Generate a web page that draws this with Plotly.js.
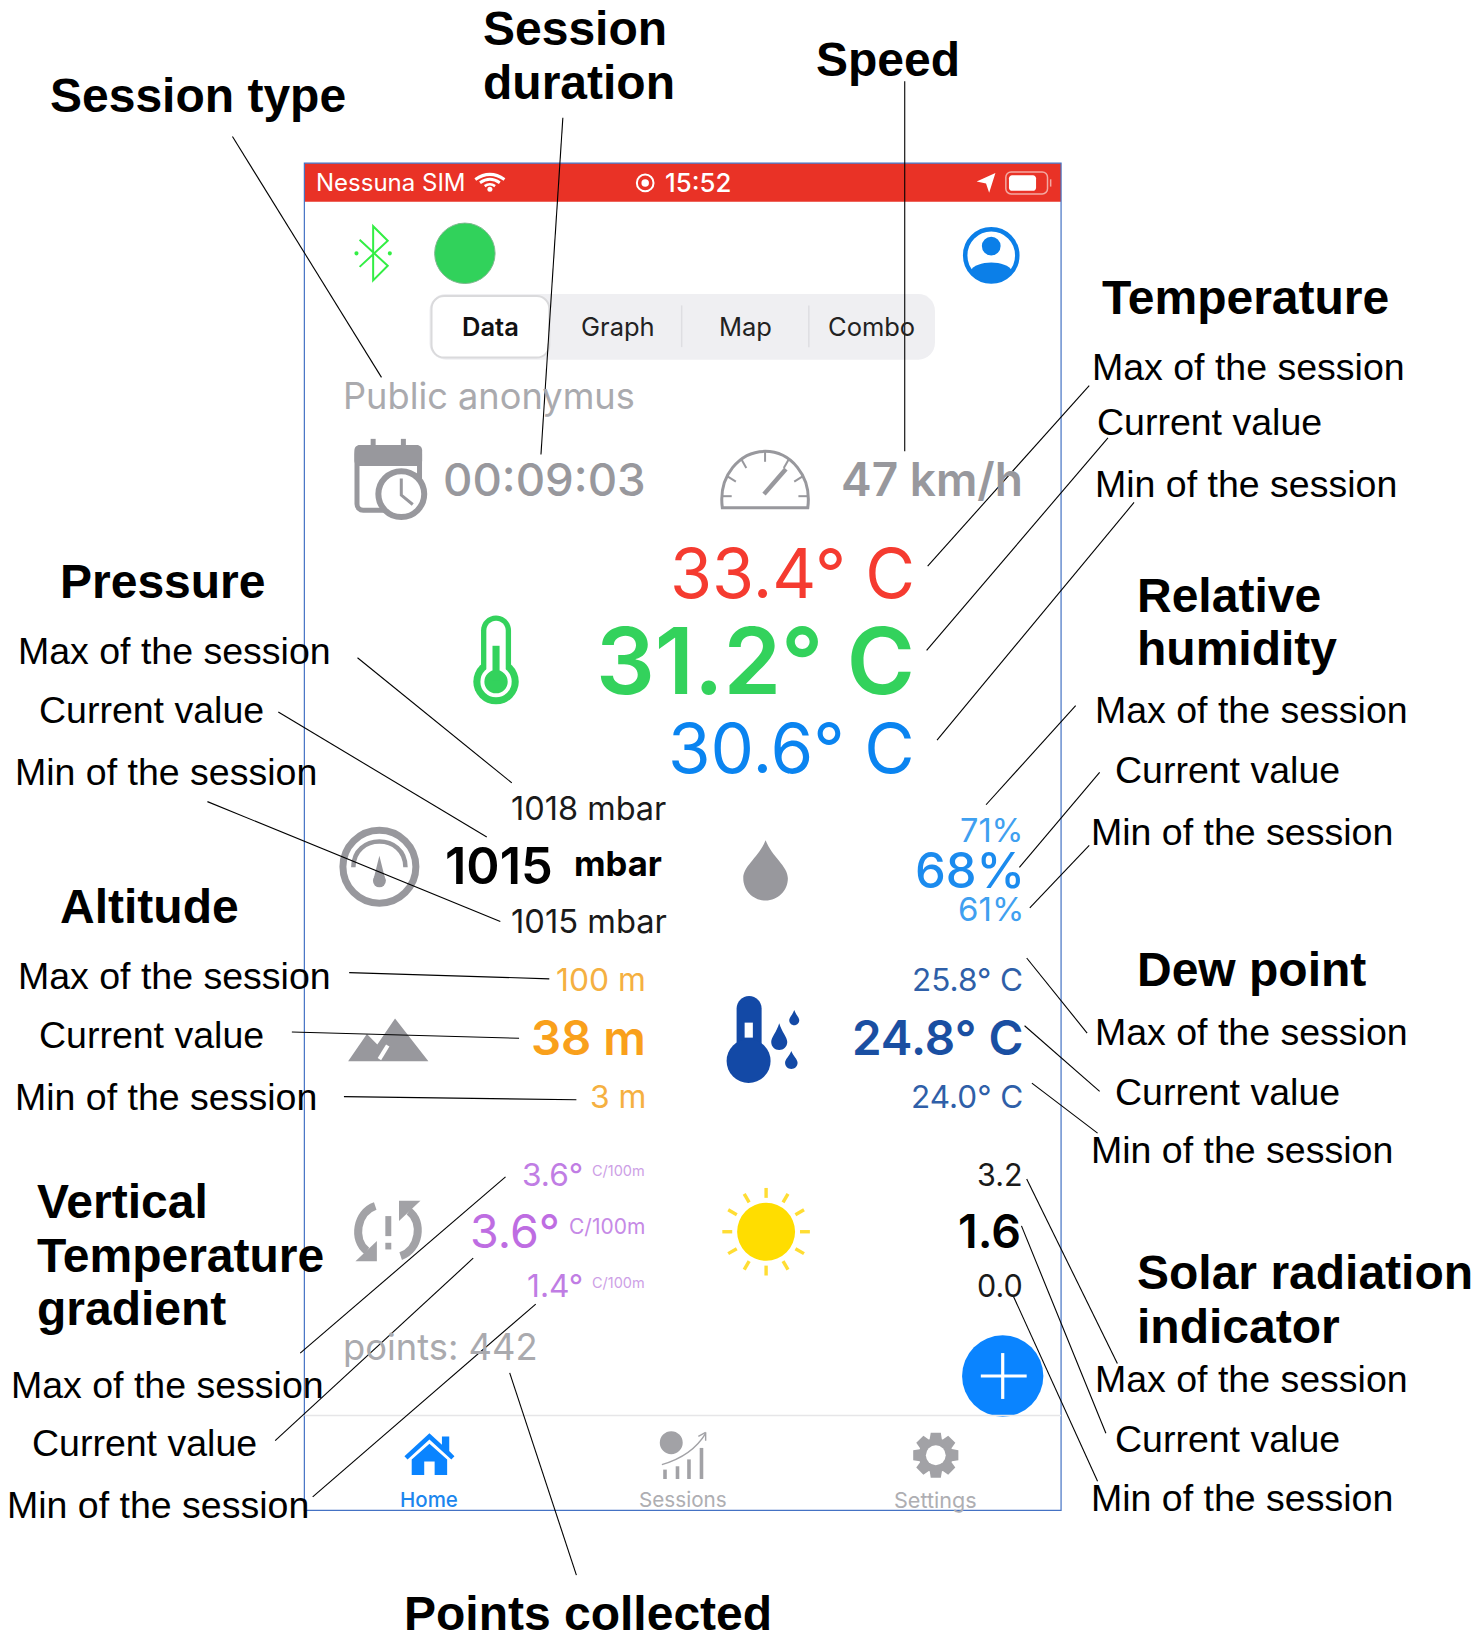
<!DOCTYPE html>
<html>
<head>
<meta charset="utf-8">
<script src="https://cdn.plot.ly/plotly-3.0.1.min.js"></script>
<style>html,body{margin:0;padding:0;background:#fff}#chart{width:1478px;height:1634px}</style>
</head>
<body>
<div id="chart"></div>
<script>
// ---- content ----
const sessionType = "Public anonymus";
const sessionDuration = "00:09:03";
const speedValue = "47 km/h";
const pointsCollected = "points: 442";
const temperatureValues = ["33.4° C", "31.2° C", "30.6° C"];
const pressureValues = ["1018 mbar", "1015", "mbar", "1015 mbar"];
const humidityValues = ["71%", "68%", "61%"];
const altitudeValues = ["100 m", "38 m", "3 m"];
const dewPointValues = ["25.8° C", "24.8° C", "24.0° C"];
const gradientValues = ["3.6°", "3.6°", "1.4°"];
const gradientUnit = "C/100m";
const solarValues = ["3.2", "1.6", "0.0"];
const tabNames = ["Data", "Graph", "Map", "Combo"];
const navNames = ["Home", "Sessions", "Settings"];
const statusTexts = ["Nessuna SIM", "15:52"];
const labelMax = "Max of the session", labelCur = "Current value", labelMin = "Min of the session";

// picture-space units; the axes map them to the 1478 x 1634 page
const RANGE_X = 1418, RANGE_Y = 1567.5;
const SANS = '"Liberation Sans", Arial, sans-serif';
const APP = 'Inter, Roboto, sans-serif';
const annotations = [], shapes = [];

function txt(text, x, y, size, color, anchor, weight, family) {
  annotations.push({
    text, x, y: y - 0.7, xref: 'x', yref: 'y', showarrow: false, borderpad: 0, borderwidth: 0,
    xanchor: anchor || 'left', yanchor: 'middle', align: anchor || 'left',
    font: { size: size, color: color, family: family || APP, weight: weight || 400 }
  });
}
const head = (t, x, y) => txt(t, x - 0.5, y, 48, '#000', 'left', 700, SANS);
const lab = (t, x, y) => txt(t, x - 0.7, y, 37.5, '#000', 'left', 400, SANS);

function path(d, fill, stroke, w) {
  shapes.push({ type: 'path', path: d, xref: 'x', yref: 'y', layer: 'below',
    fillcolor: fill || 'rgba(0,0,0,0)', line: { color: stroke || 'rgba(0,0,0,0)', width: stroke ? (w || 1) : 0 } });
}
function circle(cx, cy, r, fill, stroke, w) {
  shapes.push({ type: 'circle', x0: cx - r, x1: cx + r, y0: cy - r, y1: cy + r, xref: 'x', yref: 'y', layer: 'below',
    fillcolor: fill || 'rgba(0,0,0,0)', line: { color: stroke || 'rgba(0,0,0,0)', width: stroke ? (w || 1) : 0 } });
}
function seg(x0, y0, x1, y1, color, w) { path(`M${x0},${y0}L${x1},${y1}`, null, color, w); }
function rr(x0, y0, x1, y1, r) {
  const c = r * 0.4477;
  return `M${x0 + r},${y0}L${x1 - r},${y0}C${x1 - c},${y0} ${x1},${y0 + c} ${x1},${y0 + r}L${x1},${y1 - r}C${x1},${y1 - c} ${x1 - c},${y1} ${x1 - r},${y1}L${x0 + r},${y1}C${x0 + c},${y1} ${x0},${y1 - c} ${x0},${y1 - r}L${x0},${y0 + r}C${x0},${y0 + c} ${x0 + c},${y0} ${x0 + r},${y0}Z`;
}
function drop(cx, tip, cy, r, fill) {
  const k = r * 0.5523;
  path(`M${cx},${tip}C${cx + r * 0.3},${tip + (cy - tip) * 0.45} ${cx + r},${cy - k} ${cx + r},${cy}C${cx + r},${cy + k} ${cx + k},${cy + r} ${cx},${cy + r}C${cx - k},${cy + r} ${cx - r},${cy + k} ${cx - r},${cy}C${cx - r},${cy - k} ${cx - r * 0.3},${tip + (cy - tip) * 0.45} ${cx},${tip}Z`, fill);
}

// ---- phone screen ----
path('M292,156.5L1018,156.5L1018,193.5L292,193.5Z', '#E93226');
path('M292,156.5L1018,156.5L1018,1449L292,1449Z', null, '#4472C4', 1.2);

// status bar
txt(statusTexts[0], 303, 175.5, 24, '#fff');
[[14, 3], [9.5, 3], [5, 2.6]].forEach(([r, w]) => {
  path(`M${470 - r},${182 - r * 0.7}Q470,${182 - r * 1.4} ${470 + r},${182 - r * 0.7}`, null, '#fff', w);
});
circle(470, 181.5, 2.4, '#fff');
circle(619, 175.5, 8, null, '#fff', 2); circle(619, 175.5, 3.6, '#fff');
txt(statusTexts[1], 638, 175.5, 25.8, '#fff', 'left', 500);
path('M937,174L955,166L949,185L946,176Z', '#fff');
path(rr(965, 165, 1005, 186, 5), null, '#F3A9A2', 1.5);
path(rr(968, 168, 994, 183, 3), '#fff');
path('M1008,172L1008,179', null, '#F3A9A2', 1.5);

// top row
path('M345,230L372,255L358,269L358,217L372,231L345,256', null, '#33EE44', 2);
circle(342, 243, 2, '#33EE44'); circle(374, 243, 2, '#33EE44');
circle(446, 243, 29, '#31D25B', '#7FB98F', 1);
circle(951, 245, 25, '#fff', '#0B7FE8', 4.5);
circle(951, 236, 9, '#0B7FE8');
path('M931,260C936,249 966,249 971,260C965,273 937,273 931,260Z', '#0B7FE8');

// segmented control
path(rr(412, 282, 897, 345, 16), '#EFEFF2');
path(rr(414, 284, 527, 343, 12), '#fff', '#DADADC', 2);
seg(654, 293, 654, 333, '#DEDEE2', 1.5); seg(776, 293, 776, 333, '#DEDEE2', 1.5);
txt(tabNames[0], 470.5, 314, 25.5, '#111', 'center', 600);
txt(tabNames[1], 593, 314, 25.5, '#222', 'center', 400);
txt(tabNames[2], 715, 314, 25.5, '#222', 'center', 400);
txt(tabNames[3], 836.5, 314, 25.5, '#222', 'center', 400);

// session type, calendar, duration, speed
txt(sessionType, 329.5, 380.5, 36.2, '#AAAAAE');
const GR = '#98989D';
seg(358, 421, 358, 432, GR, 5); seg(387, 421, 387, 432, GR, 5);
path(rr(342.5, 429.5, 402.5, 489.5, 6), '#fff', GR, 5);
path(rr(340, 427, 405, 447, 5), GR);
circle(385, 474, 22, '#fff', GR, 6);
path('M385,459L385,475L396,484', null, GR, 3);
txt(sessionDuration, 425, 460.5, 45.6, GR, 'left', 500);
path('M693,487C689,456 710,433 734,433C758,433 779,456 775,487Z', null, GR, 3);
[[734, 433, 734, 443], [711, 440, 716, 449], [698, 457, 706, 462], [692, 476, 702, 476], [757, 440, 752, 449], [770, 457, 762, 462], [776, 476, 766, 476]].forEach(a => seg(a[0], a[1], a[2], a[3], GR, 2));
seg(733, 474, 754, 450, GR, 4.5);
txt(speedValue, 981.5, 460.5, 46, GR, 'right', 600);

// temperature
const TG = '#33D25C';
path(rr(461.5, 590.5, 490.3, 660, 14.4), TG);
circle(475.9, 653.9, 21.8, TG);
path(rr(466.6, 595.5, 485.2, 650, 9.3), '#fff');
circle(475.9, 653.9, 15, '#fff');
circle(475.9, 653.9, 11.2, TG);
path('M472.5,619.5L479.3,619.5L479.3,653L472.5,653Z', TG);
txt(temperatureValues[0], 878, 550.5, 68.2, '#F53B30', 'right');
txt(temperatureValues[1], 877.5, 633.5, 92.5, TG, 'right', 600);
txt(temperatureValues[2], 878, 718.5, 69, '#0A84F0', 'right');

// pressure
circle(364, 831.5, 35, '#fff', GR, 7);
path('M339,832C339,799 389,799 389,832', null, GR, 4.5);
path('M364,821L370,845L358,845Z', GR);
circle(364, 845, 6.2, GR);
txt(pressureValues[0], 639, 776, 32.5, '#1a1a1a', 'right');
txt(pressureValues[1], 427, 831, 50.5, '#000', 'left', 600);
txt(pressureValues[2], 550.5, 829, 34.6, '#000', 'left', 700);
txt(pressureValues[3], 640, 884, 32.7, '#1a1a1a', 'right');

// humidity
drop(734.5, 806, 842.4, 21.4, GR);
txt(humidityValues[0], 982.5, 797, 32.5, '#3FA0F0', 'right');
txt(humidityValues[1], 983.5, 836, 48.9, '#1B8BEE', 'right', 500);
txt(humidityValues[2], 982.5, 873, 33, '#3FA0F0', 'right');

// altitude
path('M334,1018L352,992L362,1002L379,977L411,1018Z', GR);
seg(364, 1016, 372, 1003, '#fff', 4);
txt(altitudeValues[0], 620, 940, 31.8, '#F5B041', 'right');
txt(altitudeValues[1], 619.5, 996, 47.3, '#F9A01B', 'right', 600);
txt(altitudeValues[2], 620, 1053, 31.8, '#F5B041', 'right');

// dew point
const DB = '#1349A6';
path(rr(706.7, 955.4, 730.7, 1020, 12), DB);
circle(718.2, 1017.8, 21.1, DB);
path('M714.4,981L722.3,981L722.3,995.4L714.4,995.4Z', '#fff');
drop(762, 969, 978.7, 4.8, DB);
drop(747.6, 981.6, 999.5, 7.7, DB);
drop(759.2, 1008.2, 1019.4, 6, DB);
txt(dewPointValues[0], 981.5, 940, 31.5, '#2F5FA8', 'right');
txt(dewPointValues[1], 981.5, 996, 47.5, '#1A4FA2', 'right', 600);
txt(dewPointValues[2], 981.5, 1053, 31.5, '#2F5FA8', 'right');

// gradient
path('M360,1157C342,1163 338,1190 352,1200', null, '#A2A2A6', 8);
path('M341,1210L361.6,1210L361.6,1190.6Z', '#A2A2A6');
path('M384.4,1205C402.4,1199 406.4,1172 392.4,1162', null, '#A2A2A6', 8);
path('M403.4,1152L382.8,1152L382.8,1171.4Z', '#A2A2A6');
path('M369.7,1166.6L375.4,1166.6L375.4,1185.8L369.7,1185.8Z', '#A2A2A6');
path('M369.7,1192.2L375.4,1192.2L375.4,1198.6L369.7,1198.6Z', '#A2A2A6');
const PU = '#BE6DE2';
txt(gradientValues[0], 559.5, 1127, 31.7, '#C07DE4', 'right');
txt(gradientUnit, 619, 1124, 14.5, '#CDA0E6', 'right');
txt(gradientValues[1], 537, 1182, 46.5, PU, 'right');
txt(gradientUnit, 619, 1177.5, 21, '#C68AE6', 'right');
txt(gradientValues[2], 559.5, 1234, 31.7, '#C07DE4', 'right');
txt(gradientUnit, 619, 1231, 14.5, '#CDA0E6', 'right');

// sun
circle(735, 1181.6, 27.8, '#FFDD00');
for (let i = 0; i < 12; i++) {
  const a = i * Math.PI / 6, c = Math.cos(a), s = Math.sin(a);
  seg(735 + 32.5 * c, 1181.6 + 32.5 * s, 735 + 42 * c, 1181.6 + 42 * s, '#FFDD33', 3.4);
}
txt(solarValues[0], 981.5, 1127, 30.5, '#1a1a1a', 'right');
txt(solarValues[1], 979.5, 1182, 46.5, '#000', 'right', 600);
txt(solarValues[2], 981.5, 1234, 30.5, '#1a1a1a', 'right');

// points and button
txt(pointsCollected, 329.5, 1293, 36.3, '#AAAAAE');
circle(962, 1320, 39, '#0A84FF');
seg(941, 1320, 985, 1320, '#fff', 3.2); seg(962, 1298, 962, 1342, '#fff', 3.2);

// tab bar
seg(292, 1358, 1018, 1358, '#E6E6E8', 1.5);
path('M388,1397L412,1375L424,1386L424,1378L431,1378L431,1392L436,1397L433,1400L412,1381L391,1400Z', '#0A84FF');
path('M395,1400L412,1385L429,1400L429,1415L417,1415L417,1402L407,1402L407,1415L395,1415Z', '#0A84FF');
txt(navNames[0], 411.5, 1439.5, 20.5, '#1C86EE', 'center', 500);
circle(644, 1384, 11, '#A2A2A6');
[[638, 1409.8], [650, 1406.6], [661, 1400], [673, 1389]].forEach(b => seg(b[0], b[1], b[0], 1418.8, '#A2A2A6', 3.6));
path('M635,1405C652,1400 668,1390 677,1375', null, '#A2A2A6', 1.4);
path('M677,1374L670,1378M677,1374L677,1382', null, '#A2A2A6', 1.4);
txt(navNames[1], 655, 1439.5, 20.7, '#AEAEB2', 'center');
{
  const cx = 897.8, cy = 1396; let d = '';
  for (let i = 0; i < 8; i++) {
    const t = i * Math.PI / 4 - Math.PI / 2;
    [[-0.22, 22.2], [0.22, 22.2], [0.36, 16.5], [0.42, 16.5]].forEach((p, j) => {
      const a = t + p[0], x = cx + p[1] * Math.cos(a), y = cy + p[1] * Math.sin(a);
      d += (i === 0 && j === 0 ? 'M' : 'L') + x.toFixed(2) + ',' + y.toFixed(2);
    });
  }
  path(d + 'Z', '#A2A2A6');
  circle(cx, cy, 9.5, '#fff');
}
txt(navNames[2], 897.5, 1439.5, 21.6, '#AEAEB2', 'center');

// ---- callout headings and labels ----
head("Session type", 48, 92);
head("Session", 464, 28.5); head("duration", 464, 79.5);
head("Speed", 783, 57.5);
head("Temperature", 1058, 286);
lab(labelMax, 1048, 352.5); lab(labelCur, 1053, 405.5); lab(labelMin, 1051, 465);
head("Relative", 1091, 572); head("humidity", 1091, 623);
lab(labelMax, 1051, 682); lab(labelCur, 1070, 739.5); lab(labelMin, 1047, 799);
head("Dew point", 1091, 931);
lab(labelMax, 1051, 991); lab(labelCur, 1070, 1048); lab(labelMin, 1047, 1104);
head("Solar radiation", 1091, 1221); head("indicator", 1091, 1273);
lab(labelMax, 1051, 1324); lab(labelCur, 1070, 1381); lab(labelMin, 1047, 1438);
head("Pressure", 58, 558.5);
lab(labelMax, 18, 625); lab(labelCur, 38, 682); lab(labelMin, 15, 741);
head("Altitude", 58, 870);
lab(labelMax, 18, 937); lab(labelCur, 38, 994); lab(labelMin, 15, 1053);
head("Vertical", 36, 1153); head("Temperature", 36, 1205); head("gradient", 36, 1256);
lab(labelMax, 11, 1329); lab(labelCur, 31, 1385); lab(labelMin, 7, 1444);
head("Points collected", 388, 1549);

// ---- leader lines ----
const leaders = [
  [223,131,366,362],[540,113,519,436],[868,78,868,433],
  [1045,370,890,543],[1063,420,889,624],[1088,482,899,710],
  [343,631,491,751],[267,683,467,803],[199,769,480,884],
  [335,933,527,939],[280,990,498,996],[330,1052,553,1055],
  [1032,677,946,772],[1055,741,978,832],[1045,811,988,871],
  [985,919,1043,991],[983,984,1055,1047],[990,1039,1053,1087],
  [985,1131,1072,1308],[980,1176,1061,1375],[972,1243,1053,1421],
  [485,1129,288,1298],[454,1207,264,1382],[514,1251,300,1436],
  [489,1317,553,1511]
];
const lx = [], ly = [];
leaders.forEach(s => { lx.push(s[0], s[2], null); ly.push(s[1], s[3], null); });

Plotly.newPlot('chart', [{
  type: 'scatter', mode: 'lines', x: lx, y: ly, hoverinfo: 'skip', showlegend: false,
  line: { color: '#000', width: 1.1 }
}], {
  width: 1478, height: 1634, margin: { l: 0, r: 0, t: 0, b: 0, pad: 0 },
  paper_bgcolor: '#fff', plot_bgcolor: '#fff', showlegend: false,
  xaxis: { range: [0, RANGE_X], visible: false, fixedrange: true },
  yaxis: { range: [RANGE_Y, 0], visible: false, fixedrange: true },
  annotations, shapes
}, { staticPlot: true, displayModeBar: false });
</script>
</body>
</html>
